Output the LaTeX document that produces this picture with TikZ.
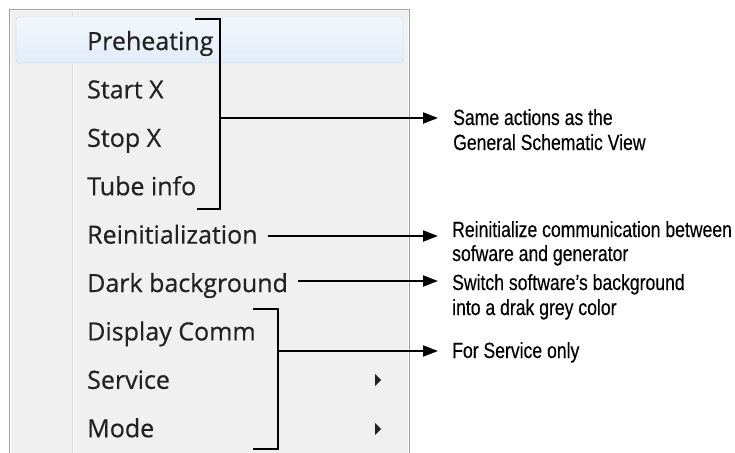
\documentclass[tikz,border=0pt]{standalone}
\usepackage{fontspec}
\setmainfont{Open Sans}
\newfontfamily\menufont[FakeBold=0.5]{Open Sans}
\newfontfamily\notefont[FakeStretch=0.8, FakeBold=0.3]{Liberation Sans}
\usetikzlibrary{arrows.meta}

\definecolor{menubg}{HTML}{F0F0F0}
\definecolor{panelborder}{HTML}{A0A0A0}
\definecolor{sepdark}{HTML}{DCDCDC}
\definecolor{hltop}{HTML}{F3F7FC}
\definecolor{hlbottom}{HTML}{E2ECF8}
\definecolor{hlborder}{HTML}{BFD3EC}
\definecolor{menutext}{HTML}{222222}

\begin{document}
\begin{tikzpicture}[x=1pt,y=-1pt,
  item/.style={anchor=base west, inner sep=0pt, text=menutext,
               font=\menufont\fontsize{25}{25}\selectfont},
  note/.style={anchor=base west, inner sep=0pt,
               font=\notefont\fontsize{22}{22}\selectfont},
  brace/.style={line width=2pt, line join=miter},
  pointer/.style={line width=2pt, -{Triangle[length=15pt,width=11pt]}},
  subarrow/.style={fill=menutext},
]
\useasboundingbox (0,0) rectangle (735,452);
\clip (0,0) rectangle (735,452);
\fill[white] (0,0) rectangle (735,452);

% context menu panel
\draw[panelborder, fill=menubg] (9.5,9.5) rectangle (409.5,470);
\draw[white] (10.5,10.5) rectangle (408.5,470);

% icon column separator
\draw[sepdark] (72.5,11) -- (72.5,460);
\draw[white] (73.5,11) -- (73.5,460);

% hovered entry
\draw[rounded corners=3pt, draw=hlborder, top color=hltop, bottom color=hlbottom]
  (16,17) rectangle (403,63);

% menu entries
\node[item] (i1) at (87,50)    {Preheating};
\node[item] (i2) at (87,98.4)  {Start X};
\node[item] (i3) at (87,146.8) {Stop X};
\node[item] (i4) at (87,195.2) {Tube info};
\node[item] (i5) at (87,243.6) {Reinitialization};
\node[item] (i6) at (87,292)   {Dark background};
\node[item] (i7) at (87,340.4) {Display Comm};
\node[item] (i8) at (87,388.8) {Service};
\node[item] (i9) at (87,437.2) {Mode};

% submenu markers
\fill[subarrow] (375,374) -- (375,386) -- (381,380) -- cycle;
\fill[subarrow] (375,423) -- (375,435) -- (381,429) -- cycle;

% annotations
\node[note] (n1a) at (453,125) {Same actions as the};
\node[note] (n1b) at (453,150) {General Schematic View};
\node[note] (n2a) at (452,237) {Reinitialize communication between};
\node[note] (n2b) at (452,261) {sofware and generator};
\node[note] (n3a) at (452,290) {Switch software’s background};
\node[note] (n3b) at (452,315) {into a drak grey color};
\node[note] (n4)  at (452,358) {For Service only};

% arrow tips, just left of each annotation
\coordinate (t1) at (438,118);
\coordinate (t2) at (438,236);
\coordinate (t3) at (438,281);
\coordinate (t4) at (438,351);

% bracket over the first four entries
\coordinate (b1) at (220,118);
\draw[brace] (195,19) -- (220,19) -- (220,209) -- (197,209);
\draw[pointer] (b1) -- (t1);

% single-entry pointers
\path ([xshift=10pt]i5.base east) coordinate (s2);
\path ([xshift=10pt]i6.base east) coordinate (s3);
\draw[pointer] (s2 |- t2) -- (t2);
\draw[pointer] (s3 |- t3) -- (t3);

% bracket over the last three entries
\coordinate (b3) at (278,351);
\draw[brace] (253,309) -- (278,309) -- (278,449) -- (253,449);
\draw[pointer] (b3) -- (t4);
\end{tikzpicture}
\end{document}
